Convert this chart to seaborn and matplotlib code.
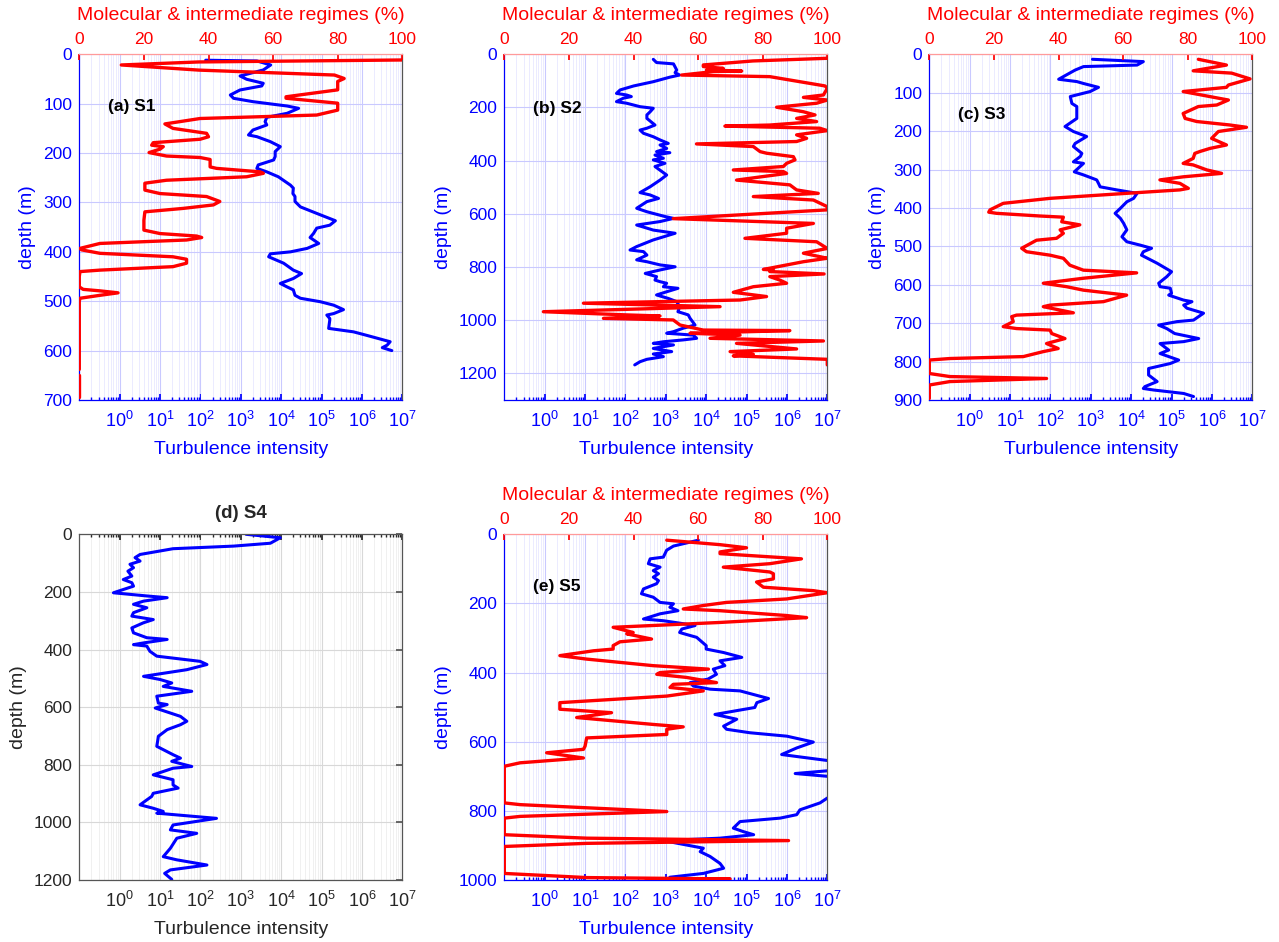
import numpy as np
import pandas as pd
import matplotlib
matplotlib.use("Agg")
import matplotlib.pyplot as plt
import seaborn as sns
from matplotlib.ticker import FixedLocator, LogLocator, NullFormatter

sns.set_theme(style="white")
plt.rcParams["font.family"] = ["Liberation Sans", "DejaVu Sans"]
plt.rcParams["mathtext.fontset"] = "custom"
plt.rcParams["mathtext.rm"] = "Liberation Sans"
plt.rcParams["mathtext.it"] = "Liberation Sans:italic"
plt.rcParams["mathtext.bf"] = "Liberation Sans:bold"

# ---------------------------------------------------------------------------
# Profiles: (depth [m], value). Turbulence intensity (log scale) and
# percentage of molecular & intermediate regimes (linear, top axis).
# ---------------------------------------------------------------------------
s1_turb = [(12, 1.35e2), (13.5, 2.5e3), (21.6, 5.5e3), (31.7, 3.6e3), (43.9, 9.6e2),
           (50.6, 1.4e3), (58.7, 3.6e3), (64.1, 3.3e3), (72.2, 9.6e2), (82.4, 5.5e2),
           (89.1, 6.6e2), (95.9, 2.0e3), (104.7, 1.4e4), (109.4, 2.7e4), (119.5, 1.4e4),
           (127.6, 4.4e3), (136.4, 4.0e3), (143.1, 4.4e3), (153.3, 2.0e3), (163.4, 1.55e3),
           (166.8, 2.5e3), (176.9, 5.4e3), (187, 9.5e3), (197, 7.1e3), (207, 7.1e3),
           (214, 6.5e3), (224, 2.7e3), (231, 2.5e3), (238, 4.4e3), (248, 8.5e3),
           (265, 1.7e4), (271, 2.0e4), (282, 1.95e4), (288, 2.2e4), (298, 2.2e4),
           (309, 3.0e4), (325, 9.3e4), (337, 2.2e5), (346, 1.6e5), (352, 7.6e4),
           (363, 6.3e4), (371, 5.2e4), (383, 8.5e4), (393, 4.4e4), (400, 1.7e4),
           (404, 5.4e3), (410, 4.9e3), (423, 1.15e4), (437, 2.0e4), (444, 3.2e4),
           (454, 2.0e4), (464, 9.5e3), (471, 1.4e4), (477, 2.0e4), (488, 2.2e4),
           (494, 3.0e4), (501, 9.3e4), (508, 2.0e5), (517, 3.5e5), (525, 2.0e5),
           (528, 1.35e5), (535, 1.6e5), (538, 1.6e5), (555, 1.5e5), (562, 6.2e5),
           (569, 1.3e6), (582, 5.0e6), (589, 4.2e6), (594, 3.2e6), (600, 5.5e6)]

s1_mol = [(11.5, 100), (15.5, 37), (21.6, 13), (32, 37), (42, 79), (49, 82), (55, 80),
          (72, 80), (86, 64), (89, 64), (99, 80), (113, 80), (123, 73.5), (130, 37.4),
          (141, 26.5), (150, 29), (160, 39.4), (167, 40), (172, 37.4), (179, 22.9),
          (184, 22.4), (187, 26), (192, 25), (199, 21.6), (206, 27), (209, 37.4),
          (213, 40.5), (228, 40.5), (231, 42.5), (238, 56), (241, 57), (248, 51.8),
          (255, 27), (261, 20.3), (275, 20.3), (282, 25), (288, 39.4), (298, 43.5),
          (305, 41.5), (312, 32.2), (319, 20.3), (336, 20), (356, 20), (363, 25),
          (368, 36.3), (371, 37.9), (376, 33.2), (383, 6.4), (393, 0.2), (396, 0.7),
          (403, 6.4), (410, 29), (415, 33.2), (423, 33.2), (430, 29), (437, 6.4),
          (440, 0.2), (450, 0), (471, 0), (476, 1.2), (479, 6.4), (483, 12), (488, 6.4),
          (494, 0.2), (500, 0), (638, 0), (644, np.nan), (650, 0), (693, 0)]

s2_turb = [(19, 4.9e2), (31, 5.9e2), (36, 1.55e3), (59, 1.86e3), (69, 1.7e3), (78, 2.2e3),
           (86, 1.26e3), (103, 4.9e2), (119, 1.6e2), (134, 74), (147, 60), (153, 1.07e2),
           (159, 1.4e2), (165, 89), (178, 60), (184, 1.07e2), (197, 2.3e2), (203, 4.9e2),
           (216, 4.1e2), (228, 3.4e2), (241, 3.4e2), (266, 5.4e2), (278, 3.4e2),
           (285, 2.3e2), (297, 2.8e2), (310, 4.9e2), (322, 7.2e2), (335, 1.15e3),
           (341, 7.2e2), (354, 1.05e3), (366, 5.9e2), (370, 1.26e3), (379, 5.4e2),
           (391, 8.7e2), (397, 4.9e2), (410, 9.5e2), (422, 5.4e2), (454, 1.05e3),
           (473, 7.2e2), (498, 4.1e2), (520, 2.3e2), (529, 4.1e2), (542, 6.6e2),
           (554, 3.4e2), (579, 1.9e2), (592, 3.4e2), (610, 9.5e2), (617, 1.55e3),
           (629, 7.2e2), (642, 1.9e2), (661, 4.9e2), (673, 1.7e3), (698, 4.9e2),
           (723, 1.9e2), (736, 1.3e2), (742, 2.8e2), (755, 3.4e2), (773, 1.9e2),
           (780, 3.4e2), (792, 7.2e2), (799, 1.7e3), (811, 7.2e2), (824, 3.1e2),
           (836, 5.9e2), (849, 5.4e2), (855, 7.2e2), (861, 1.05e3), (874, 8.7e2),
           (880, 2.0e3), (893, 1.05e3), (905, 5.9e2), (918, 1.15e3), (930, 1.86e3),
           (949, 2.2e3), (968, 2.0e3), (974, 2.7e3), (980, 3.6e3), (993, 4.0e3),
           (1018, 5.3e3), (1030, 2.7e3), (1043, 1.55e3), (1049, 1.05e3), (1056, 4.8e3),
           (1068, 5.8e3), (1074, 2.7e3), (1081, 8.7e2), (1087, 4.9e2), (1093, 1.55e3),
           (1106, 4.9e2), (1118, 1.4e3), (1127, 4.9e2), (1137, 8.7e2), (1147, 3.4e2),
           (1156, 2.3e2), (1168, 1.7e2)]

s2_mol = [(15, 100), (25, 77), (40, 61.6), (46, 61.6), (53, 67.8), (59, 62.6), (63, 73.5),
          (65, 64.7), (78, 54.9), (84, 82.2), (119, 99.3), (128, 100), (153, 98.8),
          (162, 92.6), (172, 100), (184, 96.7), (199, 84.3), (216, 92.6), (228, 96.2),
          (241, 90.5), (253, 96.7), (266, 82.2), (270, 68.3), (278, 97.7), (287, 100),
          (303, 90.5), (316, 93.6), (328, 90.5), (337, 59.5), (347, 77.1), (366, 79.2),
          (372, 81.2), (385, 89.5), (397, 90), (410, 87.4), (422, 86.4), (435, 70.9),
          (441, 86.4), (448, 87.4), (473, 71.9), (491, 88.4), (510, 90.5), (523, 97.2),
          (535, 77.1), (548, 95.7), (573, 100), (585, 100), (618, 52.3), (636, 95.7),
          (654, 87.4), (673, 87.4), (692, 74.5), (705, 96.7), (730, 100), (748, 92.6),
          (761, 97.7), (767, 100), (780, 92.6), (809, 80.2), (811, 83.3), (817, 82.2),
          (826, 99), (836, 82.2), (849, 85.3), (861, 87.4), (874, 77.1), (895, 70.9),
          (911, 81.2), (924, 73), (936, 24.5), (949, 66.8), (968, 12.1), (980, 37.9),
          (984, 48.2), (993, 30.7), (999, 52.3), (1018, 54.4), (1037, 61.6), (1039, 88.4),
          (1049, 57.5), (1056, 73), (1068, 63.7), (1078, 98.8), (1087, 71.9),
          (1108, 90.5), (1118, 69.9), (1128, 77.1), (1134, 70.9), (1147, 100), (1168, 100)]

s3_turb = [(13, 1.1e3), (19, 2.0e4), (28, 1.4e4), (32, 6.6e2), (41, 4.1e2), (58, 2.1e2),
           (65, 1.6e2), (71, 4.5e2), (76, 6.6e2), (86, 1.55e3), (97, 9.6e2), (110, 3.1e2),
           (128, 3.4e2), (136, 4.5e2), (167, 4.5e2), (188, 2.3e2), (201, 3.7e2),
           (214, 7.9e2), (232, 4.1e2), (240, 3.7e2), (258, 6.0e2), (266, 5.5e2),
           (280, 3.7e2), (284, 6.6e2), (306, 3.9e2), (314, 6.6e2), (327, 1.4e3),
           (336, 1.55e3), (345, 1.7e3), (353, 4.4e3), (362, 1.4e4), (375, 1.15e4),
           (384, 7.8e3), (401, 5.4e3), (414, 4.0e3), (427, 5.4e3), (440, 6.5e3),
           (457, 7.8e3), (475, 5.9e3), (488, 7.8e3), (497, 1.7e4), (505, 3.2e4),
           (514, 2.0e4), (523, 1.8e4), (544, 4.4e4), (566, 1.0e5), (579, 7.6e4),
           (596, 4.8e4), (605, 5.2e4), (609, 9.3e4), (622, 1.0e5), (627, 8.5e4),
           (640, 2.0e5), (644, 3.2e5), (653, 2.0e5), (661, 2.4e5), (674, 6.2e5),
           (692, 3.5e5), (696, 1.35e5), (705, 4.8e4), (714, 7.6e4), (727, 1.2e5),
           (740, 4.7e5), (748, 2.0e5), (753, 5.2e4), (770, 8.5e4), (779, 5.2e4),
           (796, 1.5e5), (805, 9.3e4), (818, 2.7e4), (835, 2.7e4), (852, 4.4e4),
           (865, 2.2e4), (870, 2.0e4), (874, 3.6e4), (883, 2.0e5), (891, 3.5e5)]

s3_mol = [(13, 83.3), (28, 92), (43, 81.7), (49, 93.6), (64, 99.3), (80, 92.6), (86, 92),
          (97, 78.6), (115, 90), (119, 92.6), (132, 89), (136, 83.3), (154, 78.6),
          (167, 79.2), (175, 82.8), (184, 93), (190, 98.2), (201, 89.5), (219, 87.4),
          (236, 92), (245, 86.9), (253, 83.8), (258, 82.2), (271, 81.7), (284, 78.6),
          (288, 81.7), (301, 85.9), (310, 90.5), (319, 78.6), (327, 71.4), (336, 77.6),
          (349, 80.2), (353, 77.6), (358, 68.3), (375, 37.4), (388, 22.9), (405, 18.8),
          (411, 18.4), (414, 20.8), (421, 34.3), (424, 41.5), (436, 41), (444, 46.6),
          (457, 40.5), (466, 41.5), (479, 39.4), (484, 33.2), (505, 28.6), (514, 30.1),
          (523, 37.4), (531, 41.5), (549, 43.5), (562, 47.7), (569, 64.2), (583, 47.7),
          (596, 35.3), (605, 42.5), (614, 47.7), (627, 61.1), (644, 53.9), (653, 37.4),
          (657, 35.3), (673, 44.6), (679, 27), (683, 25.5), (696, 26), (709, 22.9),
          (714, 27), (718, 37.4), (727, 37.9), (740, 42), (753, 36.3), (766, 39.9),
          (774, 35.3), (787, 29.1), (792, 6.4), (796, 0), (831, 0), (839, 6.4),
          (844, 36.3), (852, 6.4), (861, 0), (896, 0)]

s4_turb = [(0, 1.35e3), (12, 9.5e3), (31, 5.4e3), (41, 6.6e2), (50, 21), (70, 3.2),
           (81, 2.4), (93, 3.2), (104, 1.8), (116, 2.2), (128, 1.6), (145, 2.0),
           (157, 1.23), (168, 2.0), (180, 2.2), (203, 0.7), (214, 4.7), (220, 15),
           (232, 3.9), (243, 2.2), (255, 4.7), (272, 2.2), (284, 2.0), (296, 6.8),
           (307, 3.9), (325, 2.0), (342, 2.2), (359, 4.7), (365, 15), (377, 3.9),
           (383, 2.2), (388, 4.7), (406, 5.6), (423, 8.3), (441, 98), (452, 1.45e2),
           (470, 46), (493, 3.9), (504, 10), (516, 19.5), (528, 12), (545, 61),
           (562, 8.3), (586, 9.1), (591, 15), (603, 7.6), (632, 32), (649, 46),
           (661, 32), (678, 15), (701, 9.1), (736, 8.3), (765, 21), (777, 32),
           (788, 19.5), (806, 61), (812, 21), (835, 6.8), (852, 21), (870, 21),
           (881, 28), (899, 6.8), (910, 6.2), (922, 4.7), (939, 3.2), (951, 6.8),
           (962, 12), (968, 8.3), (986, 2.5e2), (1009, 21), (1026, 18), (1038, 81),
           (1055, 26), (1090, 18), (1119, 12), (1130, 26), (1148, 1.45e2), (1165, 18),
           (1177, 13), (1198, 19.5)]

s5_turb = [(17, 6.4e3), (34, 1.55e3), (46, 1.05e3), (66, 8.7e2), (71, 4.1e2), (85, 3.7e2),
           (95, 7.2e2), (105, 4.9e2), (114, 6.6e2), (124, 4.9e2), (134, 6.6e2), (143, 5.9e2),
           (158, 2.8e2), (172, 2.5e2), (182, 4.9e2), (197, 7.2e2), (201, 1.55e3),
           (211, 1.26e3), (221, 2.0e3), (230, 7.2e2), (245, 2.8e2), (250, 8.7e2),
           (257, 2.2e3), (264, 5.3e3), (274, 2.5e3), (284, 2.2e3), (290, 3.3e3),
           (298, 5.8e3), (322, 1.0e4), (332, 1.0e4), (342, 2.7e4), (356, 7.6e4),
           (366, 2.2e4), (380, 2.9e4), (390, 1.5e4), (405, 1.8e4), (419, 1.1e4),
           (429, 4.0e3), (439, 4.8e3), (448, 1.25e4), (453, 6.9e4), (475, 3.5e5),
           (487, 1.8e5), (501, 1.6e5), (521, 1.65e4), (535, 5.7e4), (555, 2.7e4),
           (564, 3.2e4), (574, 1.2e5), (584, 1.0e6), (601, 4.5e6), (618, 1.75e6),
           (637, 7.4e5), (644, 2.1e6), (656, 1.3e7), (670, 1.6e7), (683, 1.3e7),
           (692, 1.6e6), (700, 1.0e7), (720, 2.0e7), (745, 2.5e7), (763, 1.0e7),
           (777, 6.6e6), (797, 2.1e6), (811, 1.75e6), (821, 6.8e5), (831, 6.9e4),
           (850, 4.7e4), (860, 8.3e4), (869, 1.5e5), (879, 2.2e4), (886, 8.7e2),
           (908, 8.5e3), (918, 7.1e3), (932, 1.25e4), (952, 2.2e4), (966, 2.7e4),
           (981, 8.5e3), (992, 1.26e3)]

s5_mol = [(17, 50.3), (30, 66.8), (39, 75), (51, 66.8), (56, 66.8), (71, 92), (85, 82.2),
          (95, 67.8), (109, 82.2), (114, 83.3), (129, 83.3), (138, 78.1), (153, 80.2),
          (163, 95.7), (169, 100), (187, 87.4), (197, 68.8), (206, 61.6), (216, 55.4),
          (221, 66.8), (235, 87.4), (241, 93.6), (255, 66.8), (269, 33.7), (284, 39.9),
          (288, 37.9), (303, 45.6), (311, 35.8), (322, 33.7), (332, 33.7), (337, 27.6),
          (351, 17.2), (361, 25.5), (380, 46.1), (390, 63.2), (400, 48.2), (405, 47.2),
          (414, 56.4), (429, 65.7), (434, 52.3), (443, 51.3), (453, 61.6), (468, 50.3),
          (487, 17.2), (506, 17.2), (516, 33.2), (530, 22.4), (550, 46.1), (557, 55.4),
          (564, 50.3), (579, 50.3), (589, 25.5), (613, 25), (622, 24.5), (632, 13.1),
          (647, 24.5), (661, 4.9), (671, 0), (777, 0), (782, 4.9), (802, 50.3),
          (816, 4.9), (821, 0), (869, 0), (879, 25.5), (886, 88), (894, 25.5),
          (903, 0), (981, 0), (993, 25.5), (997, 69.9), (1001, 44)]

panel_labels = ["(a) S1", "(b) S2", "(c) S3", "(d) S4", "(e) S5"]
depth_limits = [700, 1300, 900, 1200, 1000]
depth_steps = [100, 200, 100, 200, 200]
decade_ticks = [1e0, 1e1, 1e2, 1e3, 1e4, 1e5, 1e6, 1e7]
pct_ticks = [0, 20, 40, 60, 80, 100]

BLUE = "#0000ff"
RED = "#ff0000"
DARK = "#262626"

fig = plt.figure(figsize=(12.79, 9.42), dpi=100)
fig.patch.set_facecolor("white")

W, H = 323 / 1279, 345.7 / 942
positions = [
    [79.3 / 1279, 1 - 400 / 942, W, H],
    [504.3 / 1279, 1 - 400 / 942, W, H],
    [929.3 / 1279, 1 - 400 / 942, W, H],
    [79.3 / 1279, 1 - 880 / 942, W, H],
    [504.3 / 1279, 1 - 880 / 942, W, H],
]
label_y = [0.85, 0.842, 0.827, None, 0.848]


def draw_profile(ax, pairs, color, lw):
    arr = np.asarray(pairs, dtype=float)
    depth, val = arr[:, 0], arr[:, 1]
    gap = np.isnan(val)
    seg = np.cumsum(gap)
    df = pd.DataFrame({"v": val[~gap], "d": depth[~gap], "seg": seg[~gap]})
    sns.lineplot(data=df, x="v", y="d", units="seg", estimator=None, sort=False,
                 color=color, lw=lw, ax=ax, legend=False)


def make_panel(i, turb, mol):
    twin = mol is not None
    ax = fig.add_axes(positions[i])
    ax.set_facecolor("white")
    axis_col = BLUE if twin else DARK
    major_grid = "#c9c9ff" if twin else "#d8d8d8"
    minor_grid = "#e8e8ff" if twin else "#eeeeee"

    draw_profile(ax, turb, BLUE, 2.2)
    ax.set_xscale("log")
    ax.set_xlim(0.1, 1e7)
    ax.xaxis.set_major_locator(FixedLocator(decade_ticks))
    ax.xaxis.set_minor_locator(LogLocator(base=10, subs=np.arange(2, 10), numticks=30))
    ax.xaxis.set_minor_formatter(NullFormatter())
    ymax = depth_limits[i]
    ax.set_ylim(ymax, 0)
    ax.set_yticks(np.arange(0, ymax + 1, depth_steps[i]))
    ax.grid(True, which="major", axis="both", color=major_grid, lw=0.8)
    ax.grid(True, which="minor", axis="x", color=minor_grid, lw=0.6)
    ax.set_axisbelow(True)

    ax.set_xlabel("Turbulence intensity", fontsize=14, color=axis_col, labelpad=7)
    ax.set_ylabel("depth (m)", fontsize=14, color=axis_col, labelpad=5)
    ax.tick_params(axis="both", which="both", direction="in", colors=axis_col,
                   labelsize=12.5, labelcolor=axis_col)
    ax.tick_params(axis="x", which="major", length=4, pad=8, labelsize=13)
    ax.tick_params(axis="x", which="minor", length=2)
    ax.tick_params(axis="y", which="major", length=4, pad=5)

    for side in ["left", "bottom"]:
        ax.spines[side].set_color(axis_col if twin else "#555555")
        ax.spines[side].set_linewidth(0.9)
    ax.spines["right"].set_color("#555555")
    ax.spines["right"].set_linewidth(0.9)

    if twin:
        ax.spines["top"].set_visible(False)
        ax2 = ax.twiny()
        draw_profile(ax2, mol, RED, 2.4)
        ax2.set_xlim(0, 100)
        ax2.set_xticks(pct_ticks)
        ax2.set_ylim(ymax, 0)
        ax2.set_xlabel("Molecular & intermediate regimes (%)", fontsize=14,
                       color=RED, labelpad=9)
        ax2.set_ylabel("")
        ax2.tick_params(axis="x", which="both", direction="in", colors=RED,
                        labelsize=12.5, labelcolor=RED, length=4, pad=5)
        ax2.tick_params(axis="y", left=False, right=False, labelleft=False)
        ax2.grid(False)
        for side in ["left", "right", "bottom"]:
            ax2.spines[side].set_visible(False)
        ax2.spines["top"].set_color("#ff9a9a")
        ax2.spines["top"].set_linewidth(0.9)
        ax.text(0.09, label_y[i], panel_labels[i], transform=ax.transAxes,
                fontsize=12.5, fontweight="bold", color="black",
                ha="left", va="center", zorder=10)
    else:
        ax.spines["top"].set_color("#555555")
        ax.spines["top"].set_linewidth(0.9)
        ax.tick_params(axis="x", which="both", top=True)
        ax.tick_params(axis="y", which="both", right=True, colors="#555555",
                       labelcolor=DARK)
        ax.set_title(panel_labels[i], fontsize=13.5, fontweight="bold",
                     color=DARK, pad=12)
    return ax


make_panel(0, s1_turb, s1_mol)
make_panel(1, s2_turb, s2_mol)
make_panel(2, s3_turb, s3_mol)
make_panel(3, s4_turb, None)
make_panel(4, s5_turb, s5_mol)

fig.savefig("out.png", dpi=100, facecolor="white")
